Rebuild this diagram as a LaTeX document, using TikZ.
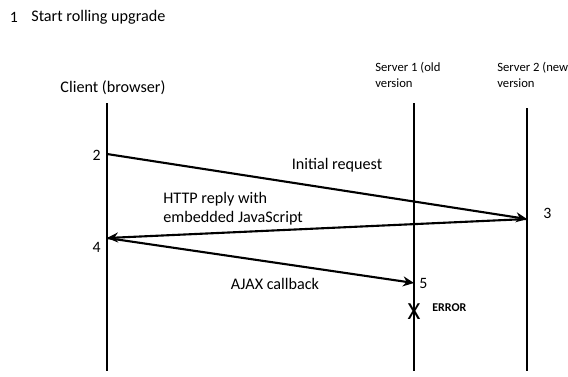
\documentclass[tikz,border=0pt]{standalone}
\usepackage{fontspec}
\setmainfont{Carlito}
\usetikzlibrary{arrows.meta}

\begin{document}
\begin{tikzpicture}[x=0.02cm,y=-0.02cm,
  life/.style={line width=1.2pt},
  msg/.style={line width=1.2pt,-{Stealth[length=2.2mm,width=2mm]}},
  lbl/.style={font=\fontsize{9.2}{10.8}\selectfont,inner sep=0pt},
  head/.style={font=\fontsize{7.2}{9.4}\selectfont,inner sep=0pt,align=left,anchor=west},
  num/.style={font=\fontsize{9}{10.5}\selectfont,inner sep=0pt}]
\useasboundingbox (0,0) rectangle (568,376);
% title
\node[num] (one) at (14,17) {1};
\node[lbl,anchor=west] (title) at (31,17) {Start rolling upgrade};
% lifelines
\node[lbl] (client) at (113,88) {Client (browser)};
\node[head] (srv1) at (375,75) {Server 1 (old\\version};
\node[head] (srv2) at (497,75) {Server 2 (new\\version};
\foreach \n/\x/\t in {cl/107/103, sa/414/103, sb/527/108}{
  \coordinate (\n top) at (\x,\t);
  \coordinate (\n bot) at (\x,371);
  \draw[life] (\n top) -- (\n bot);
}
% message ends
\coordinate (p2) at (107,154);
\coordinate (p3) at (527,219);
\coordinate (p4) at (107,238);
\coordinate (p5) at (414,283);
\draw[msg] (p2) -- (p3);
\draw[msg] (p3) -- (p4);
\draw[msg] (p4) -- (p5);
\node[num,anchor=east] (n2) at (101,155) {2};
\node[num,anchor=west] (n3) at (543,213) {3};
\node[num,anchor=east] (n4) at (101,247) {4};
\node[num,anchor=west] (n5) at (419,283) {5};
\node[lbl] (req) at (337,165) {Initial request};
\node[lbl,anchor=west,align=left] (reply) at (163,209) {HTTP reply with\\embedded JavaScript};
\node[lbl] (ajax) at (275,284) {AJAX callback};
% failure on server 1
\node[font=\fontsize{14}{16}\selectfont,inner sep=0pt] (err) at (414,312) {X};
\node[font=\fontsize{6.8}{8}\selectfont\bfseries,inner sep=0pt,anchor=west] (errtxt) at (432,308) {ERROR};
\end{tikzpicture}
\end{document}
